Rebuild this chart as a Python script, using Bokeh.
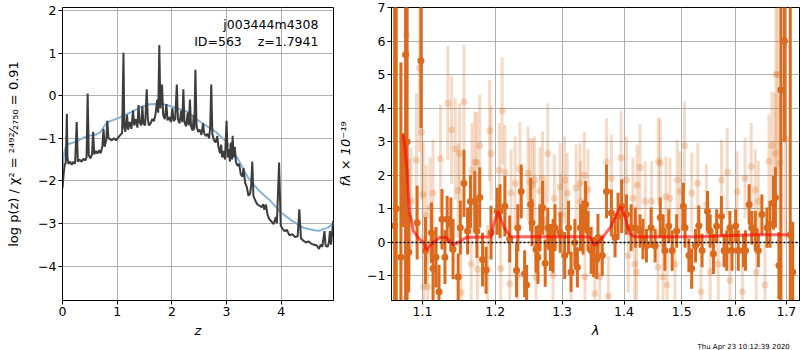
import numpy as np
from bokeh.plotting import figure
from bokeh.layouts import row
from bokeh.models import Range1d, FixedTicker, CustomJSTickFormatter, Label, Span, Title
from bokeh.embed import file_html
from bokeh.resources import INLINE

# ---------------- data: left panel (redshift PDF) ----------------
pz_curve = [
    (0.00, -2.17), (0.02, -1.85), (0.04, -1.62), (0.06, -1.58), (0.08, -0.43), (0.09, -1.45),
    (0.11, -1.60), (0.14, -1.55), (0.17, -1.62), (0.20, -1.55), (0.23, -1.60), (0.26, -0.62),
    (0.28, -1.55), (0.31, -1.50), (0.35, -1.55), (0.38, -1.48), (0.42, -1.52), (0.44, -1.45),
    (0.46, 0.05), (0.48, -1.40), (0.51, -1.47), (0.54, -1.38), (0.56, -0.85), (0.58, -1.38),
    (0.61, -1.30), (0.64, -1.36), (0.67, -1.28), (0.70, -1.35), (0.73, -1.18), (0.75, -0.78),
    (0.77, -1.20), (0.80, -1.05), (0.82, -0.59), (0.84, -1.00), (0.87, -1.02), (0.90, -1.05),
    (0.94, -1.00), (0.98, -1.05), (1.02, -0.98), (1.06, -0.92), (1.09, -0.88), (1.115, 1.01),
    (1.13, -0.75), (1.15, -0.85), (1.18, -0.45), (1.20, -0.80), (1.23, -0.62), (1.26, -0.78),
    (1.29, -0.35), (1.31, -0.70), (1.34, -0.55), (1.37, -0.75), (1.39, -0.22), (1.41, -0.62),
    (1.44, -0.70), (1.46, -0.25), (1.48, -0.65), (1.51, -0.70), (1.54, 0.15), (1.56, -0.55),
    (1.58, -0.70), (1.61, -0.65), (1.64, -0.55), (1.67, -0.60), (1.70, -0.45), (1.73, -0.10),
    (1.75, -0.40), (1.77, 1.19), (1.79, -0.30), (1.82, 0.26), (1.84, -0.45), (1.87, -0.55),
    (1.90, -0.20), (1.92, -0.58), (1.95, -0.50), (1.98, -0.62), (2.01, -0.30), (2.03, -0.60),
    (2.06, -0.55), (2.09, 0.26), (2.11, -0.55), (2.14, -0.65), (2.17, -0.35), (2.19, -0.62),
    (2.21, 0.15), (2.23, -0.62), (2.26, -0.72), (2.29, -0.40), (2.31, -0.70), (2.33, -0.09),
    (2.35, -0.72), (2.38, -0.82), (2.40, -0.45), (2.41, -0.80), (2.43, 0.61), (2.45, -0.70),
    (2.48, -0.85), (2.51, -0.80), (2.54, -0.92), (2.57, -0.65), (2.59, -0.88), (2.62, -0.95),
    (2.65, -0.90), (2.68, -1.00), (2.70, -0.75), (2.72, 0.26), (2.74, -0.90), (2.77, -1.05),
    (2.80, -1.10), (2.83, -0.95), (2.85, -1.20), (2.88, -1.35), (2.90, -1.15), (2.92, -1.45),
    (2.95, -1.30), (2.97, -1.50), (3.00, -0.59), (3.02, -1.45), (3.04, -1.25), (3.06, -1.55),
    (3.08, -1.10), (3.10, -1.50), (3.11, -0.94), (3.13, -1.45), (3.15, -1.20), (3.17, -1.55),
    (3.20, -1.65), (3.23, -1.60), (3.26, -1.85), (3.29, -1.90), (3.31, -1.70), (3.34, -2.05),
    (3.37, -2.15), (3.40, -2.35), (3.43, -2.30), (3.45, -2.10), (3.47, -1.55), (3.49, -2.35),
    (3.52, -2.45), (3.56, -2.55), (3.60, -2.58), (3.64, -2.62), (3.67, -2.55), (3.69, -2.68),
    (3.72, -2.56), (3.75, -2.80), (3.78, -2.90), (3.82, -2.95), (3.86, -3.02), (3.90, -2.85),
    (3.92, -3.00), (3.96, -1.57), (3.99, -3.05), (4.02, -3.12), (4.06, -3.18), (4.10, -3.15),
    (4.15, -3.28), (4.20, -3.25), (4.25, -3.32), (4.30, -3.30), (4.33, -2.67), (4.36, -3.35),
    (4.40, -3.40), (4.45, -3.45), (4.50, -3.42), (4.55, -3.48), (4.60, -3.50), (4.65, -3.52),
    (4.69, -3.60), (4.72, -3.50), (4.75, -3.55), (4.79, -3.18), (4.81, -3.52), (4.85, -3.55),
    (4.87, -3.45), (4.89, -3.18), (4.91, -3.50), (4.95, -2.94),
]

prior_curve = [
    (0.00, -1.70), (0.03, -1.35), (0.06, -1.20), (0.10, -1.14), (0.25, -1.08), (0.44, -0.95),
    (0.60, -0.92), (0.69, -0.86), (0.81, -0.63), (1.05, -0.51), (1.30, -0.36), (1.45, -0.26),
    (1.60, -0.20), (1.80, -0.19), (1.91, -0.22), (2.10, -0.30), (2.27, -0.37), (2.49, -0.59),
    (2.80, -0.85), (3.00, -1.08), (3.20, -1.47), (3.40, -1.94), (3.60, -2.24), (3.80, -2.47),
    (4.00, -2.75), (4.20, -2.94), (4.40, -3.10), (4.60, -3.16), (4.70, -3.17), (4.85, -3.10),
    (4.955, -3.00),
]

z_ticks = [0, 1, 2, 3, 4]
logp_ticks = [-4, -3, -2, -1, 0, 1, 2]

# ---------------- data: right panel (spectrum) ----------------
# (wavelength [um], flux, error)
dark_points = [
    (1.064, 0.50, 10), (1.066, 1.00, 10), (1.072, -0.44, 5.8), (1.075, 1.86, 1.4), (1.078, 5.59, 8),
    (1.080, 3.00, 8), (1.082, -0.29, 1.2), (1.093, 0.59, 1.1), (1.098, 5.41, 2.0), (1.104, -0.24, 1.0),
    (1.112, 0.29, 0.9), (1.114, -0.78, 1.0), (1.118, -0.44, 0.9), (1.122, -1.47, 0.8), (1.126, 0.69, 0.9),
    (1.130, -0.44, 0.8), (1.133, 0.69, 0.7), (1.138, 0.54, 0.8), (1.141, -0.20, 0.9), (1.148, -1.03, 0.7),
    (1.151, 0.44, 0.8), (1.156, 1.76, 1.0), (1.161, 0.34, 0.7), (1.165, 1.22, 0.8), (1.171, 1.22, 0.9),
    (1.174, 0.34, 0.8), (1.178, 1.34, 0.9), (1.182, -0.51, 0.8), (1.187, -0.83, 0.7), (1.194, 0.29, 0.8),
    (1.203, 0.93, 0.7), (1.207, 0.93, 0.8), (1.214, 1.08, 0.9), (1.221, 0.10, 0.7), (1.231, -0.83, 0.8),
    (1.233, 0.44, 0.7), (1.238, 1.52, 0.8), (1.243, -0.93, 0.7), (1.246, -1.27, 0.6), (1.252, 1.13, 0.8),
    (1.254, 0.59, 0.7), (1.260, -0.20, 0.7), (1.263, -0.44, 0.8), (1.266, 0.44, 0.7), (1.270, 1.03, 0.8),
    (1.274, -0.62, 0.7), (1.278, 0.44, 0.6), (1.282, -0.15, 0.7), (1.286, -0.10, 0.8), (1.289, 0.44, 0.7),
    (1.297, 0.29, 0.6), (1.304, -0.39, 0.7), (1.310, 0.44, 0.8), (1.314, -0.88, 0.6), (1.320, 0.00, 0.7),
    (1.324, -0.74, 0.6), (1.329, 0.44, 0.7), (1.333, 0.44, 0.8), (1.337, 1.13, 0.7), (1.341, 0.34, 0.6),
    (1.346, -0.24, 0.7), (1.350, -0.44, 0.6), (1.355, -0.49, 0.6), (1.357, 0.15, 0.7), (1.364, -0.39, 0.6),
    (1.371, 1.52, 0.8), (1.379, 0.88, 0.7), (1.385, 0.15, 0.6), (1.390, 0.78, 0.7), (1.396, 1.08, 0.8),
    (1.404, 0.83, 0.6), (1.412, 0.44, 0.7), (1.419, 0.44, 0.6), (1.427, 0.34, 0.5), (1.432, 0.10, 0.6),
    (1.438, -0.10, 0.5), (1.446, 0.44, 0.6), (1.453, -0.10, 0.5), (1.462, 0.74, 0.6), (1.467, 0.34, 0.5),
    (1.470, -0.24, 0.6), (1.477, 0.49, 0.5), (1.483, -0.24, 0.6), (1.491, 0.34, 0.5), (1.503, 1.08, 0.7),
    (1.506, 0.44, 0.6), (1.513, -0.39, 0.5), (1.518, -0.78, 0.6), (1.525, -0.10, 0.5), (1.531, 0.50, 0.6),
    (1.537, -0.24, 0.5), (1.547, 0.93, 0.6), (1.552, 0.34, 0.5), (1.558, -0.34, 0.6), (1.564, 0.49, 0.5),
    (1.573, 0.78, 0.6), (1.578, -0.24, 0.5), (1.583, -0.24, 0.6), (1.589, 0.44, 0.5), (1.593, -0.24, 0.6),
    (1.600, 0.49, 0.5), (1.605, -0.24, 0.6), (1.615, -0.24, 0.5), (1.619, -0.24, 0.6), (1.626, 1.13, 0.6),
    (1.631, 0.44, 0.5), (1.638, 0.34, 0.6), (1.644, -0.24, 0.5), (1.651, 0.83, 0.6), (1.661, 0.44, 0.6),
    (1.667, 0.54, 0.7), (1.674, 1.18, 0.8), (1.678, 1.34, 0.9), (1.685, -0.69, 1.0), (1.689, 4.54, 10),
    (1.696, 6.00, 3.0), (1.708, 0.23, 10), (1.713, -0.88, 1.5),
]

light_points = [
    (1.079, 6.18, 3.0), (1.083, 0.70, 1.8), (1.085, 1.23, 1.6), (1.092, 2.45, 2.0), (1.096, 5.20, 2.5),
    (1.099, 3.28, 2.0), (1.101, 1.43, 1.6), (1.102, -1.32, 1.5), (1.105, 0.80, 1.5), (1.107, -1.32, 1.4),
    (1.110, 1.03, 1.5), (1.114, 1.47, 1.6), (1.124, 2.50, 1.6), (1.134, 4.15, 1.7), (1.139, 3.35, 1.6),
    (1.144, 2.79, 1.5), (1.148, 1.55, 1.4), (1.150, 2.65, 1.5), (1.152, -1.50, 1.4), (1.156, 4.19, 1.7),
    (1.166, -0.64, 1.4), (1.167, 2.16, 1.4), (1.171, 2.40, 1.5), (1.174, 2.38, 1.5), (1.175, -0.80, 1.3),
    (1.178, 2.89, 1.5), (1.189, -0.78, 1.3), (1.192, 3.33, 1.5), (1.194, 2.65, 1.4), (1.206, 2.16, 1.4),
    (1.208, -0.78, 1.3), (1.210, 3.92, 1.6), (1.214, 2.10, 1.4), (1.221, -1.23, 1.3), (1.223, 1.47, 1.3),
    (1.229, 1.76, 1.4), (1.233, -0.98, 1.3), (1.236, 2.18, 1.4), (1.248, 2.06, 1.4), (1.251, 1.81, 1.3),
    (1.255, 1.71, 1.4), (1.258, 1.86, 1.3), (1.260, -1.03, 1.3), (1.266, 1.53, 1.3), (1.270, 1.91, 1.4),
    (1.274, 0.64, 1.2), (1.278, 2.65, 1.5), (1.286, -0.98, 1.2), (1.288, 1.32, 1.3), (1.297, 1.66, 1.3),
    (1.298, 0.84, 1.2), (1.304, 1.86, 1.3), (1.308, 1.47, 1.2), (1.314, -0.93, 1.2), (1.322, 1.62, 1.3),
    (1.328, 1.76, 1.2), (1.329, 1.23, 1.2), (1.335, 2.00, 1.3), (1.336, -1.03, 1.2), (1.341, 1.57, 1.2),
    (1.352, -1.52, 1.2), (1.360, -1.03, 1.2), (1.371, 2.40, 1.3), (1.374, -1.60, 1.2), (1.379, 1.91, 1.3),
    (1.395, 2.52, 1.4), (1.404, 1.86, 1.3), (1.407, -0.39, 1.1), (1.415, 1.32, 1.2), (1.418, -0.64, 1.1),
    (1.421, -0.88, 1.1), (1.422, 1.71, 1.2), (1.427, 2.23, 1.3), (1.436, 1.23, 1.2), (1.447, 1.23, 1.2),
    (1.458, -0.74, 1.1), (1.459, 2.42, 1.3), (1.462, 2.36, 1.3), (1.467, -1.03, 1.1), (1.472, 1.37, 1.2),
    (1.474, -1.27, 1.1), (1.479, 1.32, 1.2), (1.488, -0.64, 1.1), (1.492, 1.86, 1.2), (1.497, 1.52, 1.2),
    (1.505, 2.89, 1.3), (1.518, 1.47, 1.2), (1.529, 1.76, 1.2), (1.535, -1.47, 1.1), (1.545, 1.13, 1.2),
    (1.552, -0.88, 1.1), (1.567, -0.64, 1.1), (1.573, 1.86, 1.2), (1.584, 2.10, 1.3), (1.589, -1.13, 1.1),
    (1.603, 1.52, 1.2), (1.613, -1.47, 1.1), (1.618, 1.91, 1.2), (1.630, 2.26, 1.3), (1.638, 1.57, 1.2),
    (1.640, -0.88, 1.1), (1.644, 1.23, 1.2), (1.657, -1.27, 1.2), (1.665, 2.42, 1.4), (1.671, 2.89, 1.6),
    (1.677, 2.65, 1.8), (1.679, 5.00, 3.0), (1.683, 5.00, 3.0), (1.687, 2.36, 2.0), (1.698, 3.09, 3.0),
]

model_curve = [
    (1.075, 3.20), (1.077, 2.89), (1.080, 2.10), (1.083, 0.93), (1.088, 0.35), (1.094, 0.15),
    (1.101, 0.00), (1.105, -0.22), (1.112, -0.05), (1.123, 0.15), (1.132, 0.15), (1.141, -0.07),
    (1.148, 0.00), (1.159, 0.15), (1.194, 0.17), (1.198, 0.54), (1.204, 0.93), (1.213, 0.44),
    (1.222, 0.17), (1.344, 0.17), (1.352, -0.10), (1.360, 0.05), (1.377, 0.44), (1.387, 0.83),
    (1.395, 1.08), (1.402, 0.74), (1.410, 0.25), (1.418, 0.17), (1.527, 0.17), (1.635, 0.23),
    (1.654, 0.23), (1.702, 0.23),
]

lam_ticks = [1.1, 1.2, 1.3, 1.4, 1.5, 1.6, 1.7]
flux_ticks = [-1, 0, 1, 2, 3, 4, 5, 6, 7]
timestamp = "Thu Apr 23 10:12:39 2020"

FONT = "DejaVu Sans"
ORANGE = "#db6a1c"
BOTTOM = 50

minus_fmt = CustomJSTickFormatter(code="return (tick < 0 ? '\\u2212' : '') + Math.abs(tick).toFixed(0);")


def style(p):
    p.outline_line_color = "black"
    p.outline_line_width = 1
    p.outline_line_alpha = 1
    p.background_fill_color = "white"
    p.border_fill_color = "white"
    for ax in (p.xaxis[0], p.yaxis[0]):
        ax.axis_line_color = "black"
        ax.major_tick_in = 0
        ax.major_tick_out = 4
        ax.major_tick_line_color = "black"
        ax.minor_tick_line_color = None
        ax.major_label_text_font = FONT
        ax.major_label_text_font_size = "12.5px"
        ax.major_label_text_color = "black"
        ax.axis_label_text_font = FONT
        ax.axis_label_text_font_size = "13px"
        ax.axis_label_text_color = "black"
        ax.major_label_standoff = 2
    p.xaxis.axis_label_standoff = 4
    p.grid.grid_line_color = "#b0b0b0"
    p.grid.grid_line_width = 1


# ---------------- left figure ----------------
p1 = figure(width=334, height=350, x_range=Range1d(0, 4.955), y_range=Range1d(-4.81, 2.07),
            output_backend="svg", toolbar_location=None,
            min_border_left=62, min_border_right=1, min_border_top=7, min_border_bottom=BOTTOM)
style(p1)
p1.yaxis.axis_label_standoff = 14
p1.xaxis.ticker = FixedTicker(ticks=z_ticks)
p1.yaxis.ticker = FixedTicker(ticks=logp_ticks)
p1.xgrid.ticker = FixedTicker(ticks=z_ticks)
p1.ygrid.ticker = FixedTicker(ticks=logp_ticks)
p1.xaxis.formatter = minus_fmt
p1.yaxis.formatter = minus_fmt
p1.xaxis.axis_label = "z"
p1.xaxis.axis_label_text_font_style = "italic"
p1.yaxis.axis_label = "log p(z) / \u03c7\u00b2 = \u00b2\u2074\u2079\u00b2\u2044\u2082\u2087\u2085\u2080 = 0.91"
p1.yaxis.axis_label_text_font_style = "normal"

pz_z, pz_v = zip(*pz_curve)
pr_z, pr_v = zip(*prior_curve)
p1.line(list(pr_z), list(pr_v), line_color="#84b4db", line_width=2)
p1.line(list(pz_z), list(pz_v), line_color="#3c3c3c", line_width=2)

p1.add_layout(Label(x=4.68, y=1.66, text="j003444m4308", text_align="right", text_baseline="middle",
                    text_font=FONT, text_font_size="12.5px", text_color="black"))
p1.add_layout(Label(x=4.68, y=1.28, text="ID=563\u00a0\u00a0\u00a0\u00a0z=1.7941", text_align="right",
                    text_baseline="middle", text_font=FONT, text_font_size="12.5px", text_color="black"))

# ---------------- right figure ----------------
p2 = figure(width=466, height=350, x_axis_type="log", x_range=Range1d(1.060, 1.727),
            y_range=Range1d(-1.73, 7.0), output_backend="svg", toolbar_location=None,
            min_border_left=57, min_border_right=1, min_border_top=7, min_border_bottom=BOTTOM)
style(p2)
p2.yaxis.axis_label_standoff = 11
p2.xaxis.ticker = FixedTicker(ticks=lam_ticks)
p2.yaxis.ticker = FixedTicker(ticks=flux_ticks)
p2.xgrid.ticker = FixedTicker(ticks=lam_ticks)
p2.ygrid.ticker = FixedTicker(ticks=flux_ticks)
p2.xaxis.formatter = CustomJSTickFormatter(code="return tick.toFixed(1);")
p2.yaxis.formatter = minus_fmt
p2.xaxis.axis_label = "\u03bb"
p2.xaxis.axis_label_text_font_style = "italic"
p2.yaxis.axis_label = "f\u03bb \u00d7 10\u207b\u00b9\u2079"
p2.yaxis.axis_label_text_font_style = "italic"

l_lam, l_val, l_err = (np.array(a) for a in zip(*light_points))
d_lam, d_val, d_err = (np.array(a) for a in zip(*dark_points))

p2.segment(x0=l_lam, y0=l_val - l_err, x1=l_lam, y1=l_val + l_err,
           line_color=ORANGE, line_alpha=0.25, line_width=3)
p2.scatter(l_lam, l_val, size=7, fill_color=ORANGE, fill_alpha=0.25, line_color=None)
p2.segment(x0=d_lam, y0=d_val - d_err, x1=d_lam, y1=d_val + d_err,
           line_color=ORANGE, line_alpha=1.0, line_width=3)
p2.scatter(d_lam, d_val, size=7, fill_color=ORANGE, fill_alpha=1.0, line_color=None)

m_lam, m_val = zip(*model_curve)
p2.line(list(m_lam), list(m_val), line_color="red", line_alpha=0.6, line_width=3)
p2.add_layout(Span(location=0, dimension="width", line_color="black", line_dash="2 2", line_width=1.5))

# timestamp below the right panel, toward its right edge
ts = Title(text=timestamp, align="left", offset=306, standoff=0, text_line_height=0.6,
           vertical_align="bottom", text_font=FONT, text_font_size="7px",
           text_font_style="normal", text_color="black")
p2.add_layout(ts, "below")

layout = row(p1, p2)
open("out.html", "w").write(file_html(layout, INLINE))
